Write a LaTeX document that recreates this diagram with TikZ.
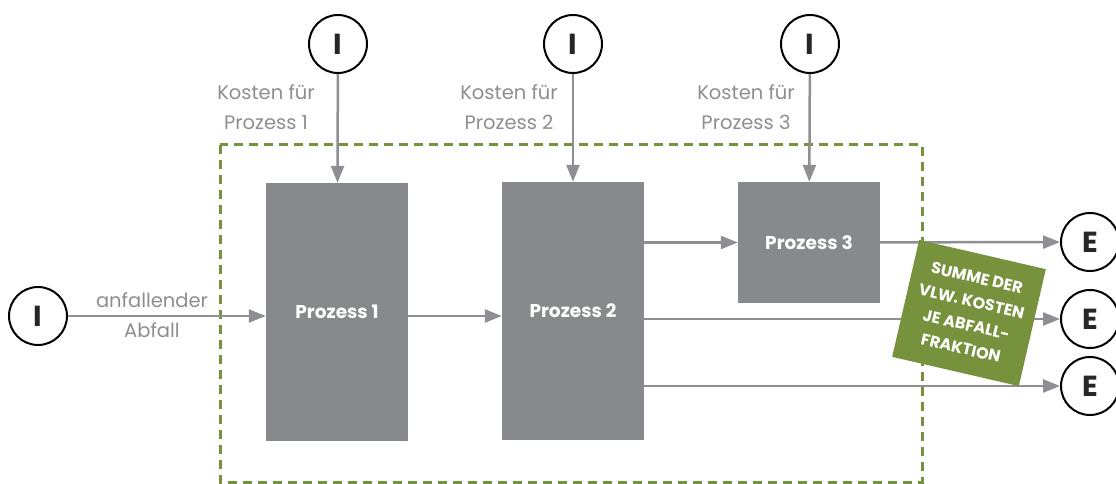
\documentclass[tikz,border=0pt]{standalone}
\usepackage{fontspec}
\setmainfont{Poppins}
\usetikzlibrary{calc, positioning, arrows.meta}
\definecolor{procgray}{HTML}{88898D}
\definecolor{arrowgray}{HTML}{8E8F93}
\definecolor{labelgray}{HTML}{8E8E8E}
\definecolor{olive}{HTML}{76923C}

\begin{document}
\begin{tikzpicture}[x=1pt, y=-1pt,
  proc/.style={fill=procgray, minimum width=142pt, text=white, font=\bfseries\fontsize{18.5}{20}\selectfont},
  term/.style={circle, draw=black, line width=2pt, minimum size=58pt, inner sep=0pt, text=black!85, font=\bfseries\fontsize{29}{30}\selectfont},
  flow/.style={-{Triangle[length=17pt, width=13pt]}, draw=arrowgray, line width=2.5pt},
  lbl/.style={text=labelgray, align=center, font=\fontsize{19.5}{30}\selectfont}]
\useasboundingbox (0,0) rectangle (1116,484);
% system border %
\draw[olive, line width=3pt, dash pattern=on 9pt off 6pt] (220,145) rectangle (922,482);
% nodes %
\node[proc, minimum height=258pt] (p1) at (337,312) {Prozess 1};
\node[proc, minimum height=258pt] (p2) at (573,311) {Prozess 2};
\node[proc, minimum height=121pt] (p3) at (809,242.5) {Prozess 3};
\node[term] (i0) at (38,316) {I};
\node[term] (i1) at (338,44) {I};
\node[term] (i2) at (573,44) {I};
\node[term] (i3) at (810,44) {I};
\node[term] (e1) at (1090,242) {E};
\node[term] (e2) at (1090,319) {E};
\node[term] (e3) at (1090,386) {E};
\node[lbl] (k1) at (266,107) {Kosten für\\Prozess 1};
\node[lbl] (k2) at (509,107) {Kosten für\\Prozess 2};
\node[lbl] (k3) at (746,107) {Kosten für\\Prozess 3};
\node[lbl] (abf) at (152,315) {anfallender\\Abfall};
% edges %
\draw[flow] (i1) -- (p1);
\draw[flow] (i2) -- (p2);
\draw[flow] (i3) -- (p3);
\draw[flow] (i0) -- (i0 -| p1.west);
\draw[flow] (p1.east |- i0) -- (p2.west |- i0);
\draw[flow] (p2.east |- p3) -- (p3);
\draw[flow] (p3) -- (e1);
\draw[flow] (p2.east |- e2) -- (e2);
\draw[flow] (p2.east |- e3) -- (e3);
% summary tag %
\node[fill=olive, rotate=-13, minimum width=130pt, minimum height=120pt, inner sep=0pt,
  text=white, align=center, font=\bfseries\fontsize{16}{24}\selectfont] (sum) at (969,313)
  {SUMME DER\\VLW. KOSTEN\\JE ABFALL-\\FRAKTION};
\end{tikzpicture}
\end{document}
